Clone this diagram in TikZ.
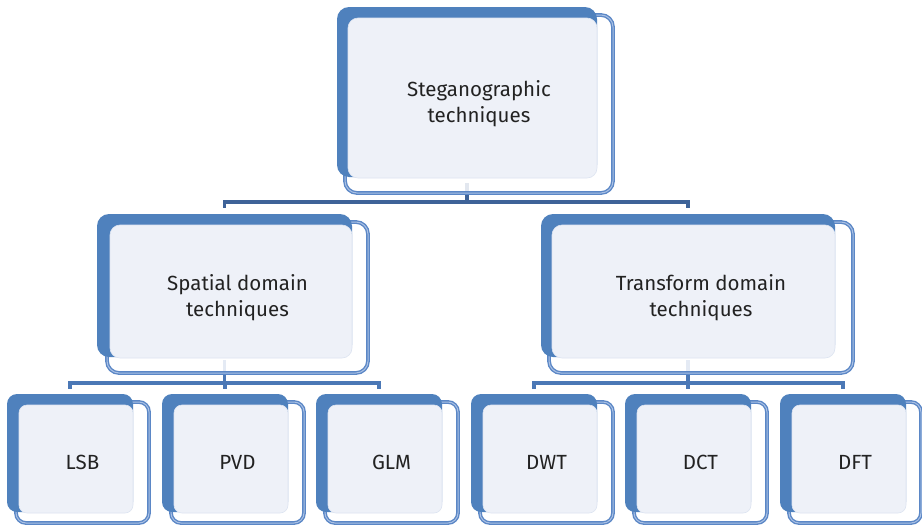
\documentclass[tikz,border=0pt]{standalone}
\usepackage{fontspec}
\setmainfont{Fira Sans}
\usetikzlibrary{calc,fit}
\definecolor{bblue}{HTML}{4F81BD}
\definecolor{oblue}{HTML}{5B87C6}
\definecolor{oinner}{HTML}{A9C0E4}
\definecolor{lfill}{HTML}{EEF1F8}
\definecolor{lborder}{HTML}{DDE4F1}
\definecolor{tgray}{HTML}{222222}
\definecolor{cone}{HTML}{3E6398}
\definecolor{ctwo}{HTML}{4B78B6}
\pgfdeclarelayer{lconn}
\pgfdeclarelayer{lout}
\pgfdeclarelayer{lback}
\pgfdeclarelayer{lfill}
\pgfsetlayers{lconn,lout,lback,lfill,main}
\def\myrc{12pt}
\tikzset{
  outl/.style={draw=oblue, line width=1.4pt, double=oinner, double distance=1pt,
    rounded corners=\myrc, fill=white, fill opacity=0.85, inner sep=0pt},
  backb/.style={fill=bblue, draw=none, rounded corners=\myrc, inner sep=0pt},
  lightf/.style={fill=lfill, draw=lborder, line width=0.6pt, rounded corners=\myrc-2pt, inner sep=0pt},
  lbl/.style={text=tgray, font=\fontsize{20.5}{26}\selectfont, align=center, inner sep=0pt},
  conn/.style={line width=3.4pt},
}
% #1 name, #2 outline top-left, #3 outline bottom-right, #4 back top-left, #5 back bottom-right, #6 text
\newcommand\mybox[6]{%
  \begin{pgfonlayer}{lout}\node[outl, fit={#2 #3}] (#1o) {};\end{pgfonlayer}
  \begin{pgfonlayer}{lback}\node[backb, fit={#4 #5}] (#1b) {};\end{pgfonlayer}
  \begin{pgfonlayer}{lfill}\node[lightf, fit={($#2+(3,3)$) ($#5+(0,1)$)}] (#1l) {};\end{pgfonlayer}
  \node[lbl] (#1) at (#1o.center) {#6};
}
\begin{document}
\begin{tikzpicture}[x=1pt, y=-1pt]
\useasboundingbox (0,0) rectangle (922,525);

\mybox{top}{(345,15)}{(613,193)}{(337,7)}{(597,177)}{Steganographic\\techniques}
\mybox{sp}{(107,222)}{(368,373)}{(97,214)}{(352,357)}{Spatial domain\\techniques}
\mybox{tr}{(549,222)}{(853,373)}{(541,214)}{(835,357)}{Transform domain\\techniques}

\def\myrc{10pt}
\mybox{lsb}{(16,402)}{(149,523)}{(7,394)}{(133,512)}{LSB}
\mybox{pvd}{(171,402)}{(304,523)}{(162,394)}{(288,512)}{PVD}
\mybox{glm}{(325,402)}{(458,523)}{(316,394)}{(442,512)}{GLM}
\mybox{dwt}{(480,402)}{(613,523)}{(471,394)}{(597,512)}{DWT}
\mybox{dct}{(634,402)}{(767,523)}{(625,394)}{(751,512)}{DCT}
\mybox{dft}{(789,402)}{(921,523)}{(780,394)}{(906,512)}{DFT}

\begin{pgfonlayer}{lconn}
\foreach \c in {sp,tr}
  \draw[conn, draw=cone] ($(topb.south)+(0,6)$) |- ($(\c b.north)+(0,-12)$) -- ($(\c b.north)+(0,-6)$);
\foreach \c in {lsb,pvd,glm}
  \draw[conn, draw=ctwo] ($(spb.south)+(0,3)$) |- ($(\c b.north)+(0,-11)$) -- ($(\c b.north)+(0,-5)$);
\foreach \c in {dwt,dct,dft}
  \draw[conn, draw=ctwo] ($(trb.south)+(0,3)$) |- ($(\c b.north)+(0,-11)$) -- ($(\c b.north)+(0,-5)$);
\end{pgfonlayer}
\end{tikzpicture}
\end{document}
